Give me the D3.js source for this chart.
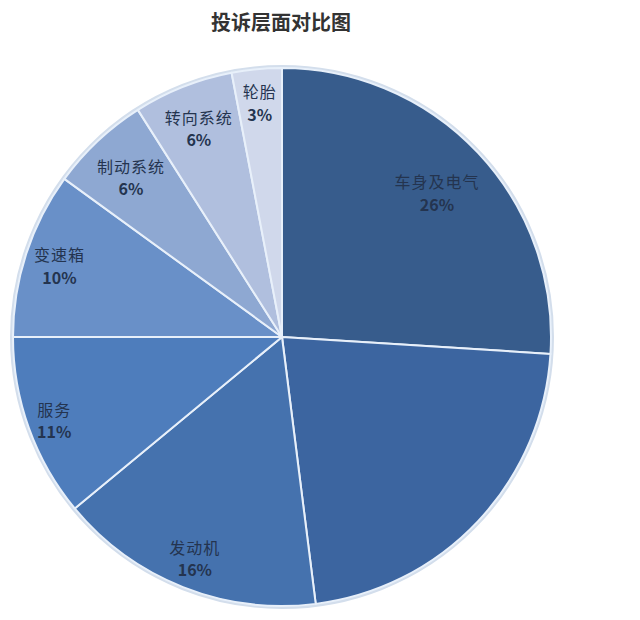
<!DOCTYPE html>
<html>
<head>
<meta charset="utf-8">
<script src="https://cdn.jsdelivr.net/npm/d3@7"></script>
<style>
  body { margin: 0; background: #fff; }
  svg { display: block; }
</style>
</head>
<body>
<div id="chart"></div>
<script>
// data, clockwise from 12 o'clock
const categories = ['车身及电气', '', '发动机', '服务', '变速箱', '制动系统', '转向系统', '轮胎'];
const shares = [26, 22, 16, 11, 10, 6, 6, 3];
const colours = ['#375c8c', '#3c65a0', '#4572ae', '#4e7dbc', '#6990c8', '#8ea8d2', '#b0bfde', '#d0d8eb'];
// label distance as a share of the radius (best-fit placement)
const labelFactor = [0.79, 0.86, 0.88, 0.9, 0.87, 0.82, 0.84, 0.88];

const W = 640, H = 620;
const cx = 282, cy = 337, R = 269;

const data = categories.map((c, i) => ({ name: c, value: shares[i], i }));

const svg = d3.select('#chart').append('svg')
  .attr('width', W)
  .attr('height', H);

svg.append('text')
  .attr('x', 281)
  .attr('y', 30)
  .attr('text-anchor', 'middle')
  .style('font-family', '"Noto Sans CJK SC", sans-serif')
  .style('font-weight', 'bold')
  .style('font-size', '20px')
  .style('fill', '#333')
  .text('投诉层面对比图');

const pie = d3.pie().value(d => d.value).sort(null);
const arc = d3.arc().innerRadius(0).outerRadius(R);
const arcs = pie(data);

const g = svg.append('g').attr('transform', `translate(${cx},${cy})`);

// soft rim behind the pie
g.append('circle')
  .attr('r', R + 1.5)
  .style('fill', 'none')
  .style('stroke', '#d3deec')
  .style('stroke-width', 3);

g.selectAll('.slice')
  .data(arcs)
  .enter().append('path')
  .attr('class', 'slice')
  .attr('d', arc)
  .style('fill', d => colours[d.data.i])
  .style('stroke', '#e8f0fa')
  .style('stroke-width', 2)
  .style('stroke-linejoin', 'round');

const labels = g.selectAll('.label')
  .data(arcs.filter(d => d.data.name !== ''))
  .enter().append('text')
  .attr('class', 'label')
  .attr('transform', d => {
    const r = R * labelFactor[d.data.i];
    const a = (d.startAngle + d.endAngle) / 2;
    return `translate(${r * Math.sin(a)},${-r * Math.cos(a)})`;
  })
  .attr('text-anchor', 'middle')
  .style('font-family', '"Noto Sans CJK SC", sans-serif')
  .style('font-size', '16px')
  .style('fill', '#24344f');

labels.append('tspan')
  .attr('x', 0)
  .attr('dy', '-0.2em')
  .style('letter-spacing', '1px')
  .text(d => d.data.name);

labels.append('tspan')
  .attr('x', 0)
  .attr('dy', '1.4em')
  .style('font-weight', 'bold')
  .text(d => d.data.value + '%');
</script>
</body>
</html>
